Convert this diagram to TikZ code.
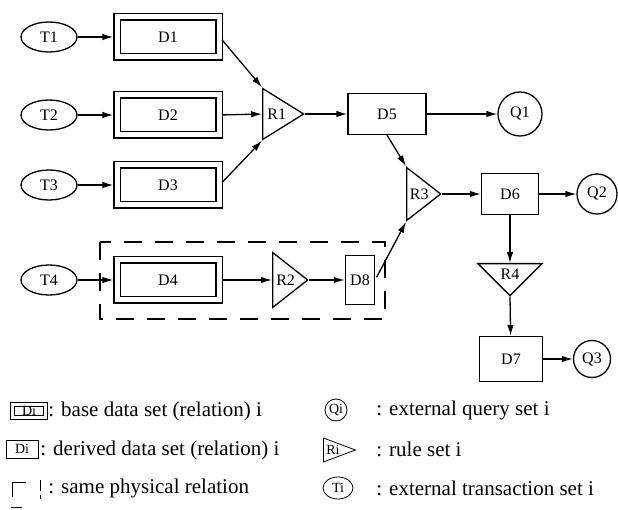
\documentclass[tikz,border=0pt]{standalone}
\usepackage{fontspec}
\setmainfont{Liberation Serif}
\usetikzlibrary{shapes.geometric, arrows.meta}

\newcommand{\lblfont}{\fontsize{16}{19}\selectfont}
\newcommand{\keyfont}{\fontsize{14}{16}\selectfont}
\newcommand{\legfont}{\fontsize{21}{25}\selectfont}

\tikzset{
  trans/.style={draw, ellipse, minimum width=56, minimum height=30, inner sep=0},
  query/.style={draw, circle, minimum size=40, inner sep=0},
  basebox/.style={draw, double, double distance=5, minimum width=102, minimum height=40, inner sep=0},
  derived/.style={draw, minimum width=78, minimum height=41, inner sep=0},
  % minimum height runs along the axis of the triangle, minimum width along its base
  rule/.style={draw, isosceles triangle, isosceles triangle apex angle=90,
    isosceles triangle stretches, inner sep=0, anchor=lower side},
  samerel/.style={dash pattern=on 18pt off 13pt},
}

\begin{document}
\begin{tikzpicture}[x=1pt, y=-1pt, >={Latex[length=11pt,width=6.5pt]}]
    \useasboundingbox (0,0) rectangle (618,510);
    \begin{scope}[line width=1.3pt, font=\lblfont]
        % Transactions feed the base relations:
        \foreach \i/\y in {1/37,2/115,3/185,4/280}{%
            \node [trans] (t\i) at (49,\y) {T\i};
            \node [basebox] (d\i) at (168,\y) {D\i};
            \draw [->, shorten >=3pt] (t\i) -- (d\i);
        }
        % Rules and the derived relations:
        \node [rule, minimum height=41, minimum width=51] (r1) at (262,114) {R1};
        \node [rule, minimum height=35, minimum width=55] (r2) at (272,280) {R2};
        \node [rule, minimum height=34, minimum width=53] (r3) at (406,194) {R3};
        \node [rule, shape border rotate=270, minimum width=64, minimum height=32] (r4) at (510,263) {R4};
        \node [derived] (d5) at (387,114) {D5};
        \node [derived, minimum width=57] (d6) at (510,194) {D6};
        \node [derived, minimum width=63, minimum height=45] (d7) at (511,359) {D7};
        \node [derived, minimum width=29, minimum height=49] (d8) at (360,280) {D8};
        % Queries:
        \node [query, minimum size=44] (q1) at (520,114) {Q1};
        \node [query] (q2) at (597,194) {Q2};
        \node [query, minimum size=37] (q3) at (592,359) {Q3};

        \draw [->, shorten <=3.5pt] (d1.east) -- (r1.left corner);
        \draw [->, shorten <=3.5pt] (d2.east) -- (r1.lower side);
        \draw [->, shorten <=3.5pt] (d3.east) -- (r1.right corner);
        \draw [->, shorten <=3.5pt] (d4.east) -- (r2.lower side);
        \draw [->] (r1.apex) -- (d5);
        \draw [->] (r2.apex) -- (d8);
        \draw [->] (d5) -- (q1);
        \draw [->] (d5.south) -- (r3.left corner);
        \draw [->, shorten <=3pt] (d8.east) -- (r3.right corner);
        \draw [->] (r3.apex) -- (d6);
        \draw [->] (d6) -- (q2);
        \draw [->] (d6.south) -- (r4.lower side);
        \draw [->] (r4.apex) -- (d7);
        \draw [->] (d7) -- (q3);

        % D4 and D8 are one physical relation:
        \draw [samerel] (100,242) rectangle (385,319);
    \end{scope}

    \begin{scope}[thick, font=\keyfont]
        % Legend:
        \node [basebox, double distance=2.5, minimum width=33, minimum height=13] (kd) at (29,411) {Di};
        \node [derived, minimum width=32, minimum height=18] (kdi) at (22,449) {Di};
        \draw (12,497) -- (12,482) -- (26,482);
        \draw (40,480) -- (40,491);
        \draw (40,495) -- (40,499);
        \draw (11,507) -- (22,507);
        \node [query, minimum size=22] (kq) at (336,410) {Qi};
        \node [rule, minimum height=32, minimum width=24] (kr) at (323,450) {};
        \node [inner sep=0] (krl) at (333,450) {Ri};
        \node [trans, minimum width=30, minimum height=22] (kt) at (338,488) {Ti};

        \begin{scope}[font=\legfont]
            \node [anchor=west, inner sep=0] (l1) at (48,411) {: base data set (relation) i};
            \node [anchor=west, inner sep=0] (l2) at (40,450) {: derived data set (relation) i};
            \node [anchor=west, inner sep=0] (l3) at (48,488) {: same physical relation};
            \node [anchor=west, inner sep=0] (l4) at (376,410) {: external query set i};
            \node [anchor=west, inner sep=0] (l5) at (376,449) {: rule set i};
            \node [anchor=west, inner sep=0] (l6) at (376,488) {: external transaction set i};
        \end{scope}
    \end{scope}
\end{tikzpicture}
\end{document}
